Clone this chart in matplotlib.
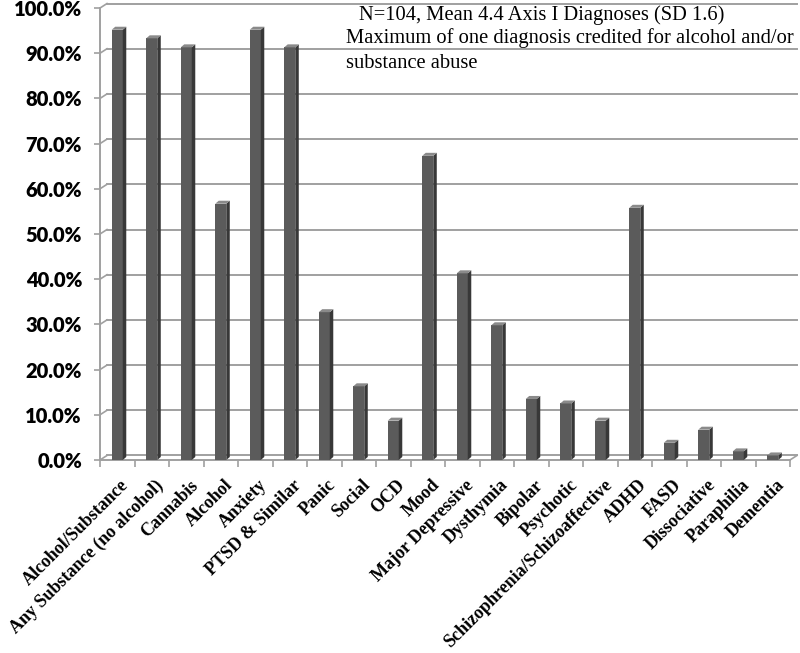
import matplotlib
matplotlib.use("Agg")
import matplotlib.pyplot as plt
import matplotlib.transforms as mtransforms
from matplotlib.collections import PolyCollection
from matplotlib.ticker import PercentFormatter
import numpy as np

categories = ["Alcohol/Substance", "Any Substance (no alcohol)", "Cannabis", "Alcohol",
              "Anxiety", "PTSD & Similar", "Panic", "Social", "OCD", "Mood",
              "Major Depressive", "Dysthymia", "Bipolar", "Psychotic",
              "Schizophrenia/Schizoaffective", "ADHD", "FASD", "Dissociative",
              "Paraphilia", "Dementia"]
percent = [95.2, 93.3, 91.3, 56.7, 95.2, 91.3, 32.7, 16.3, 8.7, 67.3,
           41.3, 29.8, 13.5, 12.5, 8.7, 55.8, 3.8, 6.7, 1.9, 1.0]
yticks = [0.0, 0.1, 0.2, 0.3, 0.4, 0.5, 0.6, 0.7, 0.8, 0.9, 1.0]
note_lines = ["N=104, Mean 4.4 Axis I Diagnoses (SD 1.6)",
              "Maximum of one diagnosis credited for alcohol and/or",
              "substance abuse"]

vals = np.array(percent) / 100
x = np.arange(len(categories))
n = len(categories)

fig = plt.figure(figsize=(8, 6.53), dpi=100)
ax = fig.add_axes([0.125, 0.2956, 0.8625, 0.6921])
ax.set_xlim(-0.5, n - 0.5)
ax.set_ylim(0, 1.0)

grid_col = "#a0a0a0"
# back wall is shifted a few pixels right/up for the 3D look
back = ax.transData + mtransforms.ScaledTranslation(7 / 100, 4.5 / 100, fig.dpi_scale_trans)
for t in yticks:
    ax.plot([-0.5, n - 0.5], [t, t], color=grid_col, lw=1.4,
            transform=back, clip_on=False, zorder=1)

px_x = 690 / n
px_y = 452
dxw, dyw = 7 / px_x, 4.5 / px_y
for t in yticks:
    ax.plot([-0.5, -0.5 + dxw], [t, t + dyw], color=grid_col, lw=1.2, clip_on=False, zorder=1)
ax.plot([n - 0.5, n - 0.5 + dxw], [0, dyw], color=grid_col, lw=1.2, clip_on=False, zorder=1)

# bars: front face, side, top
w = 0.32
ddx, ddy = 3.5 / px_x, 3 / px_y
ax.bar(x, vals, width=w, color="#5b5b5b", zorder=3)
sides = [[(xi + w / 2, 0), (xi + w / 2 + ddx, ddy), (xi + w / 2 + ddx, v + ddy), (xi + w / 2, v)]
         for xi, v in zip(x, vals)]
tops = [[(xi - w / 2, v), (xi - w / 2 + ddx, v + ddy), (xi + w / 2 + ddx, v + ddy), (xi + w / 2, v)]
        for xi, v in zip(x, vals)]
ax.add_collection(PolyCollection(sides, facecolors="#383838", edgecolors="none", zorder=3))
ax.add_collection(PolyCollection(tops, facecolors="#8a8a8a", edgecolors="none", zorder=3))

for s in ["top", "right"]:
    ax.spines[s].set_visible(False)
for s in ["left", "bottom"]:
    ax.spines[s].set_color(grid_col)
    ax.spines[s].set_linewidth(1.4)

ax.set_yticks(yticks)
ax.yaxis.set_major_formatter(PercentFormatter(1.0, decimals=1))
ax.tick_params(axis="y", length=4, color=grid_col, width=1.2, pad=9)
for lab in ax.get_yticklabels():
    lab.set_fontfamily("Lato")
    lab.set_fontweight("heavy")
    lab.set_fontsize(14.5)

ax.set_xticks(x)
ax.set_xticklabels(categories, rotation=45, ha="right", va="top", rotation_mode="anchor",
                   family="Liberation Serif", fontweight="bold", fontsize=13)
ax.tick_params(axis="x", which="major", length=0, pad=12)
ax.set_xticks(np.arange(-0.5, n), minor=True)
ax.tick_params(axis="x", which="minor", length=5, color=grid_col, width=1.2)
# nudge the rotated labels a little to the right, like the original
shift = mtransforms.ScaledTranslation(3 / 100, 0, fig.dpi_scale_trans)
for lab in ax.get_xticklabels():
    lab.set_transform(lab.get_transform() + shift)

note_font = dict(family="Liberation Serif", fontsize=14.8, va="center")
fig.text(359 / 800, 1 - 15 / 653, note_lines[0], **note_font)
fig.text(346 / 800, 1 - 38 / 653, note_lines[1], **note_font)
fig.text(346 / 800, 1 - 63 / 653, note_lines[2], **note_font)

fig.savefig("out.png", dpi=100)
